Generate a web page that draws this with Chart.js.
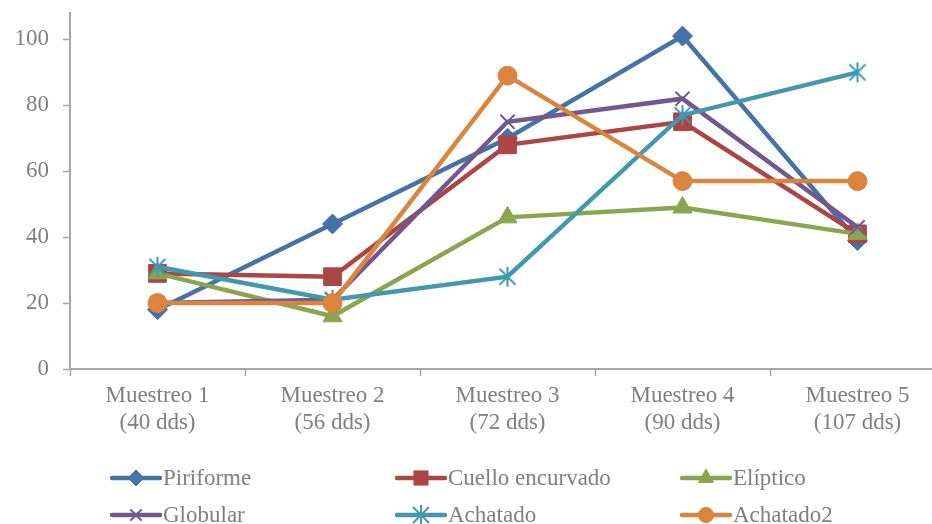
<!DOCTYPE html>
<html>
<head>
<meta charset="utf-8">
<script src="https://cdn.jsdelivr.net/npm/chart.js@4.4.1/dist/chart.umd.min.js"></script>
<style>
    html, body { margin: 0; padding: 0; background: #fff; overflow: hidden; }
    #wrap { width: 950px; height: 524px; }
</style>
</head>
<body>
<div id="wrap"><canvas id="chart" width="950" height="524"></canvas></div>
<script>
// --- DATA ---
const categories = [
    ['Muestreo 1', '(40 dds)'],
    ['Muestreo 2', '(56 dds)'],
    ['Muestreo 3', '(72 dds)'],
    ['Muestreo 4', '(90 dds)'],
    ['Muestreo 5', '(107 dds)']
];
const seriesNames = ['Piriforme', 'Cuello encurvado', 'Elíptico', 'Globular', 'Achatado', 'Achatado2'];
const piriforme = [18, 44, 70, 101, 39];
const cuelloEncurvado = [29, 28, 68, 75, 41];
const eliptico = [29, 16, 46, 49, 41];
const globular = [20, 21, 75, 82, 43];
const achatado = [31, 21, 28, 77, 90];
const achatado2 = [20, 20, 89, 57, 57];
const yTicks = [0, 20, 40, 60, 80, 100];

// --- STYLE ---
const FONT = '"Liberation Serif", "Times New Roman", serif';
const TEXT_COLOR = '#7f7f7f';
const AXIS_COLOR = '#a6a6a6';
const colors = ['#4572A7', '#AA4643', '#89A54E', '#71588F', '#4198AF', '#DB843D'];

// excel style asterisk marker (x plus vertical bar)
function makeAsterisk(color) {
    const c = document.createElement('canvas');
    c.width = 22; c.height = 22;
    const g = c.getContext('2d');
    g.strokeStyle = color;
    g.lineWidth = 2;
    g.beginPath();
    g.moveTo(11, 1); g.lineTo(11, 21);
    g.moveTo(3, 3); g.lineTo(19, 19);
    g.moveTo(19, 3); g.lineTo(3, 19);
    g.stroke();
    return c;
}

const markers = [
    { pointStyle: 'rectRot', radius: 10, borderWidth: 1 },
    { pointStyle: 'rect', radius: 12.5, borderWidth: 1 },
    { pointStyle: 'triangle', radius: 11, borderWidth: 1 },
    { pointStyle: 'crossRot', radius: 10, borderWidth: 2 },
    { pointStyle: makeAsterisk(colors[4]), radius: 11, borderWidth: 2 },
    { pointStyle: 'circle', radius: 9.5, borderWidth: 1 }
];

const seriesValues = [piriforme, cuelloEncurvado, eliptico, globular, achatado, achatado2];

// later series drawn on top, like the spreadsheet original
const datasets = seriesNames.map((name, i) => ({
    label: name,
    data: seriesValues[i],
    order: seriesNames.length - i,
    borderColor: colors[i],
    backgroundColor: colors[i],
    borderWidth: 4.5,
    tension: 0,
    pointStyle: markers[i].pointStyle,
    pointRadius: markers[i].radius,
    pointHoverRadius: markers[i].radius,
    pointBorderWidth: markers[i].borderWidth,
    pointBackgroundColor: colors[i],
    pointBorderColor: colors[i]
}));

// --- LEGEND (3 columns, 2 rows, line + marker + text) ---
const legendPlugin = {
    id: 'excelLegend',
    afterDraw(chart) {
        const ctx = chart.ctx;
        const colX = [112, 397, 682];
        const rowY = [478, 515];
        ctx.save();
        chart.data.datasets.forEach((ds, i) => {
            const x = colX[i % 3];
            const y = rowY[Math.floor(i / 3)];
            ctx.strokeStyle = ds.borderColor;
            ctx.lineWidth = 4.5;
            ctx.lineCap = 'round';
            ctx.beginPath();
            ctx.moveTo(x, y);
            ctx.lineTo(x + 48, y);
            ctx.stroke();
            ctx.lineCap = 'butt';
            ctx.fillStyle = ds.pointBackgroundColor;
            ctx.strokeStyle = ds.pointBorderColor;
            ctx.lineWidth = ds.pointBorderWidth;
            Chart.helpers.drawPoint(ctx, {
                pointStyle: ds.pointStyle,
                radius: ds.pointRadius * 0.8,
                rotation: 0,
                borderWidth: ds.pointBorderWidth
            }, x + 24, y);
            ctx.fillStyle = TEXT_COLOR;
            ctx.font = '23px ' + FONT;
            ctx.textBaseline = 'middle';
            ctx.textAlign = 'left';
            ctx.fillText(ds.label, x + 51, y + 1);
        });
        ctx.restore();
    }
};

const chart = new Chart(document.getElementById('chart'), {
    type: 'line',
    data: { labels: categories, datasets: datasets },
    options: {
        responsive: false,
        animation: false,
        events: [],
        layout: { autoPadding: false, padding: { top: 13, right: 5, bottom: 84, left: 0 } },
        plugins: { legend: { display: false }, tooltip: { enabled: false } },
        scales: {
            x: {
                offset: true,
                grid: {
                    offset: true,
                    drawOnChartArea: false,
                    drawTicks: true,
                    tickLength: 7,
                    tickColor: AXIS_COLOR,
                    tickWidth: 1.5
                },
                border: { color: AXIS_COLOR, width: 2 },
                ticks: {
                    color: TEXT_COLOR,
                    font: { family: FONT, size: 23, lineHeight: 1.2 },
                    padding: 6,
                    maxRotation: 0,
                    autoSkip: false
                },
                afterFit: s => { s.height = 71; s.paddingLeft = 0; s.paddingRight = 0; }
            },
            y: {
                min: 0,
                max: 108,
                grid: {
                    drawOnChartArea: false,
                    drawTicks: true,
                    tickLength: 7,
                    tickColor: AXIS_COLOR,
                    tickWidth: 1.5
                },
                border: { color: AXIS_COLOR, width: 2 },
                ticks: {
                    stepSize: 20,
                    color: TEXT_COLOR,
                    font: { family: FONT, size: 23 },
                    padding: 14
                },
                afterBuildTicks: s => { s.ticks = yTicks.map(v => ({ value: v })); },
                afterFit: s => { s.width = 70; s.paddingTop = 0; s.paddingBottom = 0; }
            }
        }
    },
    plugins: [legendPlugin]
});
</script>
</body>
</html>
